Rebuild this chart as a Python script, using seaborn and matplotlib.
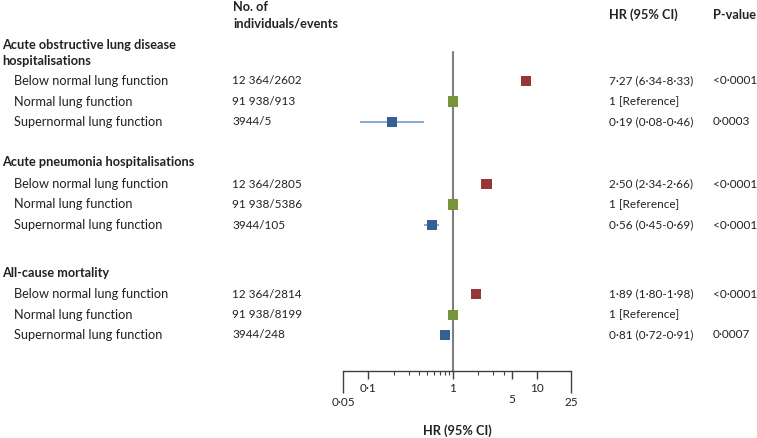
import matplotlib
matplotlib.use("Agg")
import matplotlib.pyplot as plt
import seaborn as sns
import pandas as pd
import numpy as np

# ---------------- data ----------------
outcomes = ["Acute obstructive lung disease\nhospitalisations",
            "Acute pneumonia hospitalisations",
            "All-cause mortality"]
levels = ["Below normal lung function", "Normal lung function", "Supernormal lung function"]
counts = ["12 364/2602", "91 938/913", "3944/5",
          "12 364/2805", "91 938/5386", "3944/105",
          "12 364/2814", "91 938/8199", "3944/248"]
hr = [7.27, 1.0, 0.19, 2.50, 1.0, 0.56, 1.89, 1.0, 0.81]
ci_lo = [6.34, 1.0, 0.08, 2.34, 1.0, 0.45, 1.80, 1.0, 0.72]
ci_hi = [8.33, 1.0, 0.46, 2.66, 1.0, 0.69, 1.98, 1.0, 0.91]
hr_text = ["7·27 (6·34-8·33)", "1 [Reference]", "0·19 (0·08-0·46)",
           "2·50 (2·34-2·66)", "1 [Reference]", "0·56 (0·45-0·69)",
           "1·89 (1·80-1·98)", "1 [Reference]", "0·81 (0·72-0·91)"]
p_text = ["<0·0001", "", "0·0003",
          "<0·0001", "", "<0·0001",
          "<0·0001", "", "0·0007"]
mid_ticks = [0.1, 1, 10]
mid_labels = ["0·1", "1", "10"]
low_ticks = [5]
low_labels = ["5"]
end_ticks = [0.05, 25]
end_labels = ["0·05", "25"]
minor_ticks = [0.2, 0.3, 0.4, 0.5, 0.6, 0.7, 0.8, 0.9, 2, 3, 4]

# ---------------- layout (pixel rows) ----------------
W, H = 757, 438
header_y = [53, 162, 273]
row_y = [81, 101.5, 122, 184, 204.5, 225, 294, 315, 335]
axis_y = 371

df = pd.DataFrame({"level": levels * 3, "hr": hr, "lo": ci_lo, "hi": ci_hi,
                   "y": row_y})

sns.set_theme(style="white")
plt.rcParams["font.family"] = ["Lato", "DejaVu Sans"]
FS = 9.2

fig = plt.figure(figsize=(W / 100, H / 100), dpi=100)
ax = fig.add_axes([343 / W, 1 - axis_y / H, 228 / W, axis_y / H])
ax.set_xscale("log")
ax.set_xlim(0.05, 25)
ax.set_ylim(axis_y, 0)
ax.patch.set_visible(False)

palette = {levels[0]: "#953735", levels[1]: "#77933C", levels[2]: "#376092"}
ci_col = {levels[0]: "#C0504D", levels[1]: "#9BBB59", levels[2]: "#7FA2CF"}

# reference line
ax.plot([1, 1], [52, axis_y], color="#7F7F7F", lw=1.5, zorder=1)

for _, r in df.iterrows():
    ax.hlines(r["y"], r["lo"], r["hi"], color=ci_col[r["level"]], lw=1.3, zorder=2)

sns.scatterplot(data=df, x="hr", y="y", hue="level", palette=palette, marker="s",
                s=54, linewidth=0, legend=False, ax=ax, zorder=3)

# axes styling
for s in ["top", "left", "right"]:
    ax.spines[s].set_visible(False)
ax.spines["bottom"].set_color("#404040")
ax.spines["bottom"].set_linewidth(1.0)
ax.set_yticks([])
ax.set_ylabel("")
ax.set_xticks(mid_ticks)
ax.set_xticklabels(mid_labels)
ax.set_xticks(minor_ticks, minor=True)
ax.set_xticklabels([], minor=True)
tick_kw = dict(direction="out", width=1, color="#404040", labelsize=FS - 0.7,
               labelcolor="#222222", bottom=True)
ax.tick_params(axis="x", which="major", length=5.8, pad=3.2, **tick_kw)
ax.tick_params(axis="x", which="minor", direction="out", length=2.8, width=0.8,
               color="#404040", bottom=True, labelbottom=False)

# extra tick groups drawn through secondary axes sharing the log scale
sec_low = ax.secondary_xaxis("bottom")
sec_low.set_xticks(low_ticks)
sec_low.set_xticklabels(low_labels)
sec_low.set_xticks([], minor=True)
sec_low.tick_params(axis="x", which="major", length=5.8, pad=10.5, **tick_kw)
sec_low.spines["bottom"].set_visible(False)

sec_end = ax.secondary_xaxis("bottom")
sec_end.set_xticks(end_ticks)
sec_end.set_xticklabels(end_labels)
sec_end.set_xticks([], minor=True)
sec_end.tick_params(axis="x", which="major", length=15.6, pad=3.0, **tick_kw)
sec_end.spines["bottom"].set_visible(False)

ax.set_xlabel("HR (95% CI)", fontsize=FS, fontweight="bold", color="#222222")
ax.xaxis.set_label_coords(0.5, -0.143)

# ---------------- table text ----------------
def fy(py):
    return 1 - py / H

tc = "#222222"
fig.text(233 / W, fy(7), "No. of", fontsize=FS, fontweight="bold", va="center", color=tc)
fig.text(233 / W, fy(24), "individuals/events", fontsize=FS, fontweight="bold", va="center", color=tc)
fig.text(609 / W, fy(15), "HR (95% CI)", fontsize=FS, fontweight="bold", va="center", color=tc)
fig.text(713 / W, fy(15), "P-value", fontsize=FS, fontweight="bold", va="center", color=tc)

fig.text(2 / W, fy(45), outcomes[0].split("\n")[0], fontsize=FS, fontweight="bold", va="center", color=tc)
fig.text(2 / W, fy(61), outcomes[0].split("\n")[1], fontsize=FS, fontweight="bold", va="center", color=tc)
fig.text(2 / W, fy(header_y[1]), outcomes[1], fontsize=FS, fontweight="bold", va="center", color=tc)
fig.text(2 / W, fy(header_y[2]), outcomes[2], fontsize=FS, fontweight="bold", va="center", color=tc)

for i, y in enumerate(row_y):
    fig.text(14 / W, fy(y), levels[i % 3], fontsize=FS, va="center", color=tc)
    fig.text(232 / W, fy(y), counts[i], fontsize=FS - 0.7, va="center", color=tc)
    fig.text(609 / W, fy(y), hr_text[i], fontsize=FS - 0.7, va="center", color=tc)
    if p_text[i]:
        fig.text(713 / W, fy(y), p_text[i], fontsize=FS - 0.7, va="center", color=tc)

fig.savefig("out.png", dpi=100)
